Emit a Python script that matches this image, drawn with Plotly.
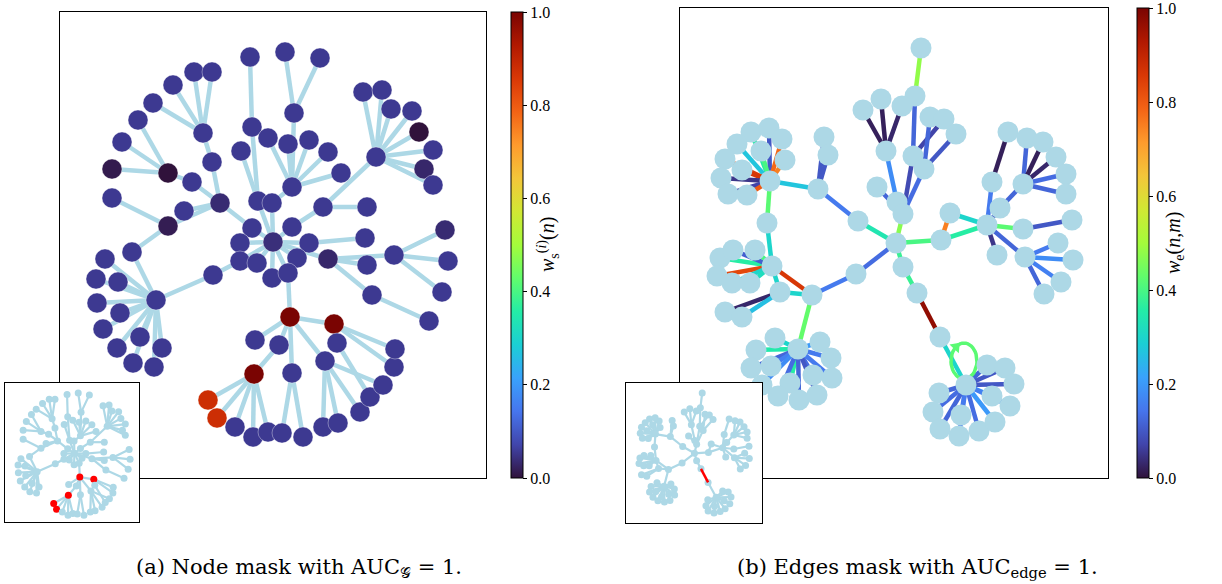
import math
import plotly.graph_objects as go
import plotly.express as px

W, H = 1222, 584
SERIF = "Liberation Serif"
CAP_SERIF = "DejaVu Serif"
TURBO = px.colors.sequential.Turbo
NODE_BLUE = "#add8e6"

# ---------------- Left graph (node mask) ----------------
left_x = [203, 194, 212, 173, 153, 212, 220, 168, 138, 122,
          112, 192, 112, 184, 168, 132, 156, 105, 96, 118,
          97, 120, 103, 140, 117, 162, 133, 154, 213, 250,
          252, 268, 241, 258, 272, 252, 240, 273, 285, 320,
          294, 288, 309, 328, 341, 292, 323, 367, 292, 309,
          365, 240, 257, 297, 272, 288, 328, 367, 394, 448,
          445, 442, 372, 429, 376, 363, 382, 391, 412, 419,
          433, 424, 433, 290, 334, 279, 255, 292, 325, 337,
          254, 208, 217, 235, 253, 268, 282, 303, 323, 338,
          360, 370, 383, 394, 395]
left_y = [133, 72, 72, 85, 103, 162, 203, 173, 120, 142,
          169, 182, 198, 211, 226, 252, 300, 259, 279, 282,
          303, 313, 329, 337, 348, 348, 363, 367, 275, 57,
          127, 138, 151, 201, 203, 228, 243, 242, 52, 58,
          113, 144, 140, 152, 173, 187, 207, 207, 227, 243,
          238, 261, 263, 258, 278, 273, 259, 265, 255, 261,
          230, 292, 295, 321, 157, 92, 90, 109, 111, 132,
          150, 169, 185, 317, 324, 345, 340, 373, 361, 343,
          374, 400, 418, 427, 437, 432, 433, 437, 427, 423,
          412, 397, 385, 367, 349]
left_value = [0.055, 0.055, 0.055, 0.055, 0.055, 0.055, 0.035, 0.0, 0.055, 0.055,
              0.012, 0.055, 0.055, 0.055, 0.015, 0.055, 0.055, 0.055, 0.055, 0.055,
              0.055, 0.055, 0.055, 0.055, 0.055, 0.055, 0.055, 0.055, 0.055, 0.055,
              0.055, 0.055, 0.055, 0.055, 0.055, 0.055, 0.055, 0.04, 0.055, 0.055,
              0.055, 0.055, 0.055, 0.055, 0.055, 0.055, 0.055, 0.055, 0.055, 0.055,
              0.055, 0.055, 0.055, 0.055, 0.055, 0.055, 0.03, 0.055, 0.055, 0.055,
              0.035, 0.055, 0.055, 0.055, 0.055, 0.055, 0.055, 0.055, 0.055, 0.0,
              0.055, 0.03, 0.055, 1.0, 1.0, 0.055, 0.055, 0.055, 0.055, 0.055,
              1.0, 0.88, 0.88, 0.055, 0.055, 0.055, 0.055, 0.055, 0.055, 0.055,
              0.055, 0.055, 0.055, 0.055, 0.055]
left_edges = [(0, 1), (0, 2), (0, 3), (0, 4), (0, 5), (5, 6), (7, 8), (7, 9), (7, 10),
              (7, 11), (11, 6), (6, 13), (6, 14), (14, 12), (14, 15), (15, 16),
              (16, 17), (16, 18), (16, 19), (16, 20), (16, 21), (16, 22), (16, 23),
              (16, 24), (16, 25), (16, 26), (16, 27), (16, 28), (28, 51), (6, 35),
              (35, 37), (29, 30), (30, 33), (32, 33), (33, 37), (31, 45), (38, 40),
              (39, 40), (40, 45), (45, 41), (45, 42), (45, 43), (45, 44), (45, 34),
              (34, 37), (64, 46), (46, 47), (46, 48), (48, 37), (37, 36), (37, 49),
              (49, 50), (37, 51), (37, 52), (37, 53), (37, 54), (37, 55), (37, 56),
              (56, 57), (56, 58), (56, 62), (58, 59), (58, 60), (58, 61), (62, 63),
              (64, 65), (64, 66), (64, 67), (64, 68), (64, 69), (64, 70), (64, 71),
              (64, 72), (55, 73), (73, 74), (73, 75), (73, 76), (73, 77), (73, 78),
              (75, 80), (80, 81), (80, 82), (80, 83), (80, 84), (80, 85), (77, 86),
              (77, 87), (78, 88), (78, 89), (78, 90), (78, 92), (74, 79), (79, 91),
              (74, 93), (74, 94)]

# ---------------- Right graph (edge mask) ----------------
right_x = [921, 915, 863, 881, 902, 886, 930, 944, 956, 913,
           924, 897, 903, 896, 824, 828, 818, 858, 770, 751,
           769, 782, 737, 761, 785, 725, 742, 721, 728, 747,
           767, 772, 720, 733, 755, 717, 732, 750, 780, 725,
           742, 812, 856, 798, 775, 756, 820, 831, 751, 771,
           813, 832, 762, 790, 778, 799, 817, 941, 950, 987,
           992, 1008, 1000, 1023, 1027, 1043, 1056, 1066, 1066, 1023,
           1072, 1025, 1058, 1073, 1061, 1044, 997, 903, 917, 940,
           966, 987, 1005, 1014, 992, 1010, 939, 933, 961, 940,
           959, 979, 995, 877]
right_y = [48, 96, 110, 99, 106, 151, 117, 119, 134, 156,
           169, 202, 214, 243, 137, 155, 189, 221, 181, 132,
           128, 139, 144, 151, 160, 159, 170, 178, 194, 195,
           223, 266, 258, 250, 250, 276, 283, 283, 292, 312,
           317, 295, 274, 349, 338, 350, 342, 358, 368, 366,
           375, 378, 385, 383, 396, 400, 395, 240, 213, 225,
           182, 132, 208, 184, 138, 142, 157, 174, 194, 229,
           220, 257, 243, 260, 282, 294, 255, 267, 293, 337,
           385, 365, 368, 384, 396, 406, 393, 412, 415, 429,
           436, 431, 422, 187]
right_edges = [(0, 1), (1, 9), (7, 9), (6, 10), (8, 10), (9, 12), (10, 12), (2, 5),
               (3, 5), (4, 5), (5, 11), (11, 12), (93, 12), (12, 13), (13, 17),
               (17, 16), (16, 14), (16, 15), (16, 18), (18, 19), (18, 20), (18, 21),
               (18, 22), (18, 23), (18, 24), (18, 25), (18, 26), (18, 27), (18, 28),
               (18, 29), (18, 30), (30, 31), (31, 32), (31, 33), (31, 34), (31, 35),
               (31, 36), (31, 37), (31, 38), (38, 39), (38, 40), (38, 41), (31, 41),
               (41, 42), (42, 13), (41, 43), (43, 44), (43, 45), (43, 46), (43, 47),
               (43, 48), (43, 49), (43, 50), (43, 51), (43, 52), (43, 53), (43, 54),
               (43, 55), (43, 56), (13, 57), (57, 59), (58, 59), (58, 57), (59, 60),
               (60, 61), (59, 62), (62, 63), (63, 64), (63, 65), (63, 66), (63, 67),
               (63, 68), (59, 69), (69, 70), (59, 71), (71, 72), (71, 73), (71, 74),
               (71, 75), (59, 76), (13, 77), (77, 78), (78, 79), (79, 80), (80, 81),
               (80, 82), (80, 83), (80, 84), (80, 85), (80, 86), (80, 87), (80, 88),
               (80, 89), (80, 90), (80, 91), (80, 92)]
right_edge_value = [0.48, 0.12, 0.07, 0.12, 0.10, 0.08, 0.13, 0.02,
                    0.02, 0.03, 0.18, 0.10, 0.12, 0.47, 0.34,
                    0.15, 0.10, 0.10, 0.27, 0.36, 0.10, 0.78,
                    0.27, 0.40, 0.75, 0.85, 0.86, 0.05, 0.07,
                    0.80, 0.42, 0.30, 0.36, 0.11, 0.40, 0.83,
                    0.30, 0.32, 0.30, 0.03, 0.26, 0.30, 0.86,
                    0.15, 0.13, 0.43, 0.30, 0.35, 0.20, 0.15,
                    0.12, 0.16, 0.13, 0.15, 0.18, 0.36, 0.13,
                    0.12, 0.10, 0.40, 0.36, 0.30, 0.75, 0.15,
                    0.02, 0.10, 0.12, 0.12, 0.02, 0.03, 0.13,
                    0.12, 0.42, 0.10, 0.12, 0.15, 0.18, 0.16,
                    0.12, 0.05, 0.38, 0.38, 0.97, 0.30, 0.12,
                    0.10, 0.10, 0.20, 0.16, 0.12, 0.13, 0.15,
                    0.12, 0.15, 0.13, 0.20]
right_self_loop_node = 80
right_self_loop_value = 0.42

cbar_ticks = [0.0, 0.2, 0.4, 0.6, 0.8, 1.0]
cbar_ticktext = ["0.0", "0.2", "0.4", "0.6", "0.8", "1.0"]
CMAX = 1.0001  # tiny headroom so the 1.0 tick is kept


def hex_rgb(h):
    h = h.lstrip("#")
    return tuple(int(h[i:i + 2], 16) for i in (0, 2, 4))


def turbo(v):
    v = min(max(v, 0.0), 1.0)
    n = len(TURBO) - 1
    pos = v * n
    i = min(int(pos), n - 1)
    f = pos - i
    a, b = hex_rgb(TURBO[i]), hex_rgb(TURBO[i + 1])
    c = [round(a[k] + (b[k] - a[k]) * f) for k in range(3)]
    return "rgb(%d,%d,%d)" % tuple(c)


def px_x(p):
    return p / W


def px_y(p):
    return 1 - p / H


def segs(xs, ys, edges):
    ex, ey = [], []
    for a, b in edges:
        ex += [xs[a], xs[b], None]
        ey += [ys[a], ys[b], None]
    return ex, ey


def cbar(xpix, ycen, length):
    return dict(x=px_x(xpix), xanchor="left", xpad=0, ypad=0,
                y=px_y(ycen), yanchor="middle", len=length / H, lenmode="fraction",
                thickness=12, outlinewidth=1, outlinecolor="black",
                ticks="outside", ticklen=4, tickwidth=1, tickcolor="black",
                tickvals=cbar_ticks, ticktext=cbar_ticktext,
                ticklabeloverflow="allow",
                tickfont=dict(family=SERIF, size=16, color="black"))


fig = go.Figure()

# ---- left main panel ----
ex, ey = segs(left_x, left_y, left_edges)
fig.add_trace(go.Scatter(x=ex, y=ey, mode="lines", line=dict(color=NODE_BLUE, width=4.5),
                         hoverinfo="skip", xaxis="x", yaxis="y", showlegend=False))
fig.add_trace(go.Scatter(
    x=left_x, y=left_y, mode="markers", xaxis="x", yaxis="y", showlegend=False,
    hoverinfo="skip",
    marker=dict(size=20, color=left_value, colorscale="Turbo", cmin=0, cmax=CMAX,
                line=dict(width=0.6, color="rgba(255,255,255,0.6)"),
                showscale=True, colorbar=cbar(511, 245, 466))))

# ---- right main panel ----
for (a, b), v in zip(right_edges, right_edge_value):
    fig.add_trace(go.Scatter(x=[right_x[a], right_x[b]], y=[right_y[a], right_y[b]],
                             mode="lines", line=dict(color=turbo(v), width=4.5),
                             hoverinfo="skip", xaxis="x2", yaxis="y2", showlegend=False))

# self loop derived from the node position
hx, hy = right_x[right_self_loop_node], right_y[right_self_loop_node]
cx, cy, rx, ry = hx - 2, hy - 24, 13, 18
lx, ly = [], []
for k in range(0, 41):
    t = math.radians(100 + k * (340 / 40))
    lx.append(cx + rx * math.cos(t))
    ly.append(cy + ry * math.sin(t))
fig.add_trace(go.Scatter(x=lx, y=ly, mode="lines",
                         line=dict(color=turbo(right_self_loop_value), width=3.5),
                         hoverinfo="skip", xaxis="x2", yaxis="y2", showlegend=False))
ta = math.radians(232)
ax_, ay_ = cx + rx * math.cos(ta), cy + ry * math.sin(ta)
dx, dy = -rx * math.sin(ta), ry * math.cos(ta)
ang = math.degrees(math.atan2(dx, -dy))
fig.add_trace(go.Scatter(x=[ax_], y=[ay_], mode="markers",
                         marker=dict(symbol="triangle-up", size=11, angle=ang,
                                     color=turbo(right_self_loop_value)),
                         hoverinfo="skip", xaxis="x2", yaxis="y2", showlegend=False))

fig.add_trace(go.Scatter(x=right_x, y=right_y, mode="markers", xaxis="x2", yaxis="y2",
                         showlegend=False, hoverinfo="skip",
                         marker=dict(size=21, color=NODE_BLUE, line=dict(width=0))))

# colorbar for the edge mask
fig.add_trace(go.Scatter(
    x=[right_x[0], right_x[0]], y=[right_y[0], right_y[0]], mode="markers",
    xaxis="x2", yaxis="y2", showlegend=False, hoverinfo="skip",
    marker=dict(size=1, opacity=0, color=[0.0, 1.0], colorscale="Turbo", cmin=0, cmax=CMAX,
                showscale=True, colorbar=cbar(1137, 243, 470))))

# ---- left inset ----
ex, ey = segs(left_x, left_y, left_edges)
fig.add_trace(go.Scatter(x=ex, y=ey, mode="lines", line=dict(color=NODE_BLUE, width=2.2),
                         hoverinfo="skip", xaxis="x3", yaxis="y3", showlegend=False))
fig.add_trace(go.Scatter(x=left_x, y=left_y, mode="markers", xaxis="x3", yaxis="y3",
                         showlegend=False, hoverinfo="skip",
                         marker=dict(size=7, color=["red" if v > 0.5 else NODE_BLUE for v in left_value])))

# ---- right inset ----
norm_e = [e for e, v in zip(right_edges, right_edge_value) if v <= 0.9]
hot_e = [e for e, v in zip(right_edges, right_edge_value) if v > 0.9]
ex, ey = segs(right_x, right_y, norm_e)
fig.add_trace(go.Scatter(x=ex, y=ey, mode="lines", line=dict(color=NODE_BLUE, width=2.2),
                         hoverinfo="skip", xaxis="x4", yaxis="y4", showlegend=False))
fig.add_trace(go.Scatter(x=right_x, y=right_y, mode="markers", xaxis="x4", yaxis="y4",
                         showlegend=False, hoverinfo="skip",
                         marker=dict(size=7, color=NODE_BLUE)))
ex, ey = segs(right_x, right_y, hot_e)
fig.add_trace(go.Scatter(x=ex, y=ey, mode="lines", line=dict(color="red", width=2.5),
                         hoverinfo="skip", xaxis="x4", yaxis="y4", showlegend=False))

axis_common = dict(showgrid=False, zeroline=False, showticklabels=False, ticks="",
                   showline=True, mirror=True, linecolor="black", linewidth=1, fixedrange=True)

fig.update_layout(
    width=W, height=H, margin=dict(l=0, r=0, t=0, b=0),
    paper_bgcolor="white", plot_bgcolor="white",
    xaxis=dict(domain=[px_x(60), px_x(486)], range=[60, 486], anchor="y", **axis_common),
    yaxis=dict(domain=[px_y(478), px_y(12)], range=[478, 12], anchor="x", **axis_common),
    xaxis2=dict(domain=[px_x(680), px_x(1108)], range=[680, 1108], anchor="y2", **axis_common),
    yaxis2=dict(domain=[px_y(478), px_y(8)], range=[478, 8], anchor="x2", **axis_common),
    xaxis3=dict(domain=[px_x(5), px_x(139)], range=[55, 476], anchor="y3", **axis_common),
    yaxis3=dict(domain=[px_y(522), px_y(383)], range=[458.5, 20.5], anchor="x3", **axis_common),
    xaxis4=dict(domain=[px_x(626), px_x(762)], range=[675, 1114], anchor="y4", **axis_common),
    yaxis4=dict(domain=[px_y(523), px_y(383)], range=[468, 16], anchor="x4", **axis_common),
    font=dict(family=SERIF, color="black"),
    annotations=[
        dict(x=px_x(548), y=px_y(245), xref="paper", yref="paper", textangle=-90,
             xanchor="center", yanchor="middle",
             text="<i>w</i><sub>s</sub><sup>(<i>i</i>)</sup>(<i>n</i>)", showarrow=False,
             font=dict(family=SERIF, size=20, color="black")),
        dict(x=px_x(1175), y=px_y(243), xref="paper", yref="paper", textangle=-90,
             xanchor="center", yanchor="middle",
             text="<i>w</i><sub>e</sub>(<i>n</i>,<i>m</i>)", showarrow=False,
             font=dict(family=SERIF, size=20, color="black")),
        dict(x=px_x(299), y=px_y(568), xref="paper", yref="paper",
             xanchor="center", yanchor="middle",
             text="(a) Node mask with AUC<sub>𝒢</sub> = 1.", showarrow=False,
             font=dict(family=CAP_SERIF, size=21, color="black")),
        dict(x=px_x(918), y=px_y(568), xref="paper", yref="paper",
             xanchor="center", yanchor="middle",
             text="(b) Edges mask with AUC<sub>edge</sub> = 1.", showarrow=False,
             font=dict(family=CAP_SERIF, size=21, color="black")),
    ],
)

fig.write_html("out.html", config={"displayModeBar": False, "staticPlot": True},
               post_script="document.body.style.margin='0px';")
